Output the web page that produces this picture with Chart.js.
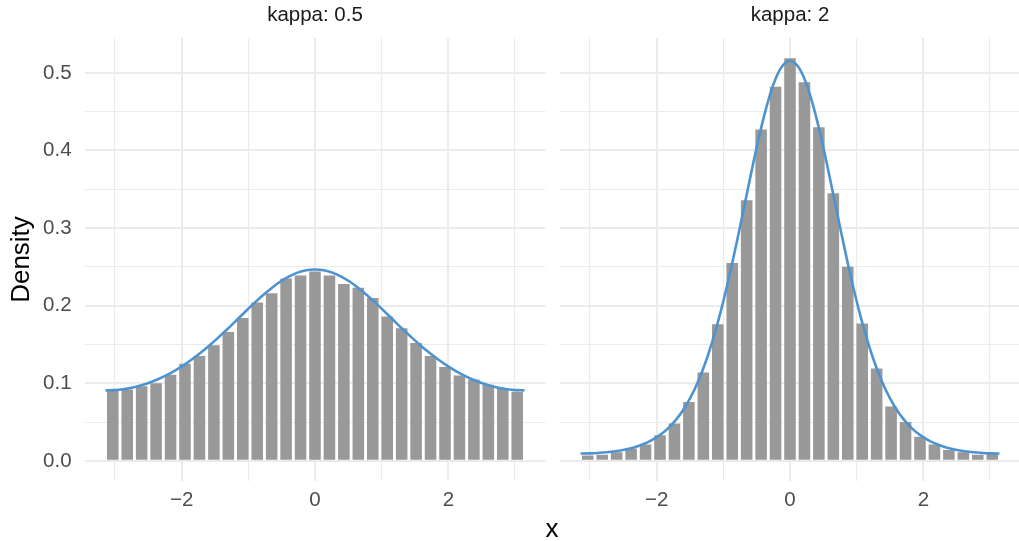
<!DOCTYPE html>
<html>
<head>
<meta charset="utf-8">
<script src="https://cdn.jsdelivr.net/npm/chart.js@4.4.1/dist/chart.umd.min.js"></script>
<style>
  html, body { margin: 0; padding: 0; overflow: hidden; background: #fff; }
  #wrap { position: relative; width: 1019px; height: 541px; overflow: hidden; background: #fff; }
  canvas { position: absolute; top: 0; }
  #xtitle { position: absolute; left: 502px; width: 100px; top: 515px; text-align: center;
            font-family: 'Liberation Sans', Arial, sans-serif; font-size: 26px; line-height: 26px; color: #000; }
</style>
</head>
<body>
<div id="wrap">
  <canvas id="left" width="553" height="541" style="left:0px"></canvas>
  <canvas id="right" width="475" height="541" style="left:553px"></canvas>
  <div id="xtitle">x</div>
</div>
<script>
// ---- data ----
const panelTitles = ['kappa: 0.5', 'kappa: 2'];

const binCenters = [-3.0333,-2.8166,-2.6000,-2.3833,-2.1666,-1.9500,-1.7333,-1.5166,-1.3000,-1.0833,-0.8667,-0.6500,-0.4333,-0.2167,0,
                    0.2167,0.4333,0.6500,0.8667,1.0833,1.3000,1.5166,1.7333,1.9500,2.1666,2.3833,2.6000,2.8166,3.0333];

const barsKappa05 = [0.091,0.092,0.096,0.100,0.111,0.125,0.135,0.149,0.166,0.184,0.204,0.216,0.235,0.239,0.244,
                     0.239,0.228,0.223,0.210,0.186,0.171,0.152,0.135,0.121,0.110,0.105,0.098,0.094,0.089];

const barsKappa2 = [0.007,0.008,0.011,0.016,0.021,0.033,0.048,0.076,0.114,0.176,0.255,0.336,0.427,0.482,0.519,
                    0.488,0.430,0.345,0.250,0.177,0.119,0.070,0.050,0.031,0.021,0.014,0.011,0.008,0.009];

const curveX = [-3.142,-3.011,-2.880,-2.749,-2.618,-2.487,-2.356,-2.225,-2.094,-1.963,-1.833,-1.702,-1.571,-1.440,-1.309,-1.178,
                -1.047,-0.916,-0.785,-0.654,-0.524,-0.393,-0.262,-0.131,0,0.131,0.262,0.393,0.524,0.654,0.785,0.916,1.047,
                1.178,1.309,1.440,1.571,1.702,1.833,1.963,2.094,2.225,2.356,2.487,2.618,2.749,2.880,3.011,3.142];

const curveKappa05 = [0.0908,0.0912,0.0923,0.0943,0.0971,0.1007,0.1051,0.1104,0.1166,0.1236,0.1315,0.1402,0.1497,0.1598,0.1703,
                      0.1812,0.1922,0.2029,0.2131,0.2225,0.2308,0.2375,0.2426,0.2457,0.2467,0.2457,0.2426,0.2375,0.2308,0.2225,
                      0.2131,0.2029,0.1922,0.1812,0.1703,0.1598,0.1497,0.1402,0.1315,0.1236,0.1166,0.1104,0.1051,0.1007,0.0971,
                      0.0943,0.0923,0.0912,0.0908];

const curveKappa2 = [0.0095,0.0096,0.0101,0.0110,0.0124,0.0143,0.0170,0.0207,0.0257,0.0325,0.0416,0.0538,0.0698,0.0906,0.1172,
                     0.1501,0.1898,0.2359,0.2872,0.3413,0.3946,0.4430,0.4819,0.5071,0.5159,0.5071,0.4819,0.4430,0.3946,0.3413,
                     0.2872,0.2359,0.1898,0.1501,0.1172,0.0906,0.0698,0.0538,0.0416,0.0325,0.0257,0.0207,0.0170,0.0143,0.0124,
                     0.0110,0.0101,0.0096,0.0095];

const xTicks = [-3,-2,-1,0,1,2,3];
const xTickLabels = [-2,0,2];
const yTicks = [0,0.05,0.1,0.15,0.2,0.25,0.3,0.35,0.4,0.45,0.5];
const yTickLabels = [0,0.1,0.2,0.3,0.4,0.5];

// ---- chart ----
Chart.defaults.font.family = "'Liberation Sans', Arial, sans-serif";
const GRID = '#EBEBEB';
const isIn = (arr, v) => arr.some(a => Math.abs(a - v) < 1e-9);

function makePanel(id, title, bars, curve, first) {
  const barData = binCenters.map((x, i) => ({x: x, y: bars[i]}));
  const lineData = curveX.map((x, i) => ({x: x, y: curve[i]}));
  return new Chart(document.getElementById(id), {
    data: {
      datasets: [
        { type: 'line', data: lineData, borderColor: '#4D93D0', borderWidth: 2.6,
          pointRadius: 0, tension: 0.3, fill: false, order: 0 },
        { type: 'bar', data: barData, backgroundColor: '#999999', borderWidth: 0,
          barPercentage: 0.8, categoryPercentage: 1.0, order: 1 }
      ]
    },
    options: {
      responsive: false,
      animation: false,
      events: [],
      layout: { padding: first ? { left: 0, right: 7.6, top: 0, bottom: 0 }
                               : { left: 6.6, right: 7.6, top: 0, bottom: 0 } },
      plugins: {
        legend: { display: false },
        tooltip: { enabled: false },
        title: {
          display: true, text: title, fullSize: false, color: '#1A1A1A',
          font: { size: 20.5, weight: 'normal', lineHeight: '24px' },
          padding: { top: 3, bottom: 11 }
        }
      },
      scales: {
        x: {
          type: 'linear', min: -3.456, max: 3.456, offset: false, bounds: 'ticks',
          afterBuildTicks: s => { s.ticks = xTicks.map(v => ({value: v})); },
          afterFit: s => { s.height = 60; },
          border: { display: false },
          grid: { color: GRID, drawTicks: false, offset: false,
                  lineWidth: ctx => (ctx.tick && isIn(xTickLabels, ctx.tick.value)) ? 2 : 1.1 },
          ticks: { autoSkip: false, maxRotation: 0, minRotation: 0, padding: 7, color: '#4D4D4D',
                   font: { size: 20.5, lineHeight: '24px' },
                   callback: v => isIn(xTickLabels, v) ? (v < 0 ? '\u2212' + Math.abs(v) : String(v)) : '' },
          title: { display: false }
        },
        y: {
          type: 'linear', min: -0.02595, max: 0.54495,
          afterBuildTicks: s => { s.ticks = yTicks.map(v => ({value: v})); },
          afterFit: s => { s.width = first ? 84.6 : 0; },
          border: { display: false },
          grid: { color: GRID, drawTicks: false,
                  lineWidth: ctx => (ctx.tick && isIn(yTickLabels, ctx.tick.value)) ? 2 : 1.1 },
          ticks: { display: first, padding: 13, color: '#4D4D4D',
                   font: { size: 20.5, lineHeight: '24px' },
                   callback: v => isIn(yTickLabels, v) ? v.toFixed(1) : '' },
          title: { display: first, text: 'Density', color: '#000',
                   font: { size: 26, lineHeight: '30px' }, padding: { top: 7, bottom: 0 } }
        }
      }
    }
  });
}

makePanel('left', panelTitles[0], barsKappa05, curveKappa05, true);
makePanel('right', panelTitles[1], barsKappa2, curveKappa2, false);
</script>
</body>
</html>
